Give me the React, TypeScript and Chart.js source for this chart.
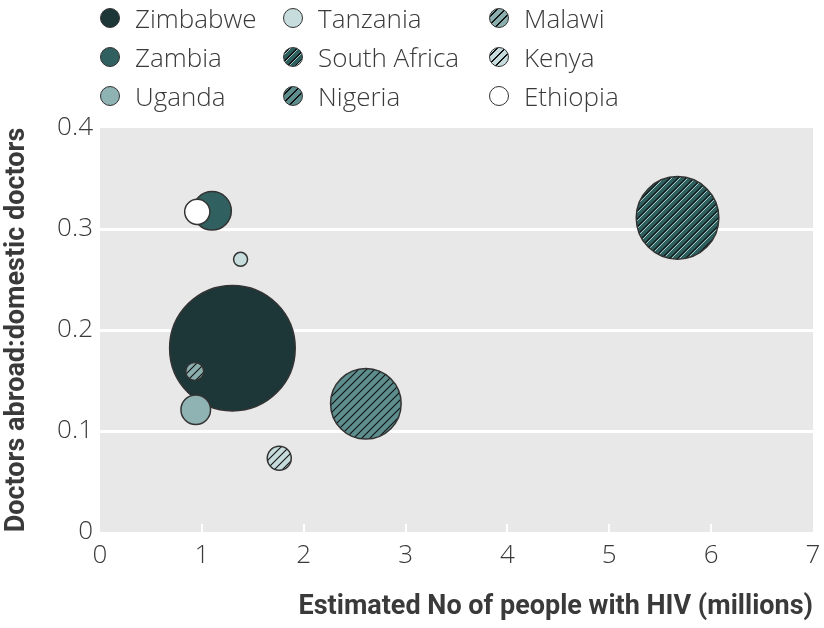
import React, { useEffect, useRef } from 'react';
import { Chart, registerables } from 'chart.js';

Chart.register(...registerables);

// ---- data ----
const countries = ['Zimbabwe', 'Zambia', 'Uganda', 'Tanzania', 'South Africa', 'Nigeria', 'Malawi', 'Kenya', 'Ethiopia'];
const hivMillions = [1.3, 1.1, 0.94, 1.38, 5.67, 2.61, 0.93, 1.76, 0.955];
const doctorRatio = [0.182, 0.318, 0.121, 0.27, 0.311, 0.127, 0.159, 0.073, 0.317];
const bubbleRadius = [62.8, 19.3, 14.8, 7, 41.3, 35.3, 9, 12, 12.6];
const fillColors = ['#1d3638', '#30605f', '#8fb2b2', '#c6dcdd', '#2e5f5f', '#5d8d8d', '#8aadad', '#c6dbdb', '#ffffff'];
const hatchStyles = ['none', 'none', 'none', 'none', 'double', 'single', 'single', 'single', 'none'];
const xTickLabels = ['0', '1', '2', '3', '4', '5', '6', '7'];
const yTickLabels = ['0', '0.1', '0.2', '0.3', '0.4'];
const xTitle = 'Estimated No of people with HIV (millions)';
const yTitle = 'Doctors abroad:domestic doctors';

const TEXT = '#3a3a3a';
const BORDER = '#333333';
const LIGHT_FONT = "'Open Sans', 'DejaVu Sans', sans-serif";
const BOLD_FONT = "Roboto, 'Open Sans', sans-serif";

function makePattern(base: string, style: string): CanvasPattern | string {
  if (style === 'none') return base;
  const s = 8;
  const c = document.createElement('canvas');
  c.width = s;
  c.height = s;
  const g = c.getContext('2d')!;
  g.fillStyle = base;
  g.fillRect(0, 0, s, s);
  const line = (off: number, color: string, w: number) => {
    g.strokeStyle = color;
    g.lineWidth = w;
    for (let k = -1; k <= 1; k++) {
      g.beginPath();
      g.moveTo(k * s + off - 1, s + 1);
      g.lineTo(k * s + off + s + 1, -1);
      g.stroke();
    }
  };
  if (style === 'double') {
    line(2, '#a9c7c7', 1);
    line(0, '#111111', 1.1);
  } else {
    line(0, '#111111', 1.1);
  }
  return g.createPattern(c, 'repeat')!;
}

function legendSwatch(i: number): React.CSSProperties {
  const base = fillColors[i];
  const style = hatchStyles[i];
  let background: string = base;
  if (style === 'single') {
    background = `repeating-linear-gradient(135deg, ${base} 0px, ${base} 4.6px, #111 4.6px, #111 5.8px)`;
  } else if (style === 'double') {
    background = `repeating-linear-gradient(135deg, ${base} 0px, ${base} 3.4px, #111 3.4px, #111 4.4px, #a9c7c7 4.4px, #a9c7c7 5.6px)`;
  }
  return {
    width: 20,
    height: 20,
    borderRadius: '50%',
    border: `1.5px solid ${BORDER}`,
    boxSizing: 'border-box',
    background,
    flex: '0 0 auto',
  };
}

const plotDecor = {
  id: 'plotDecor',
  beforeDraw(chart: any) {
    const { ctx, chartArea: a } = chart;
    ctx.save();
    ctx.fillStyle = '#e8e8e8';
    ctx.fillRect(a.left, a.top, a.right - a.left, a.bottom - a.top);
    ctx.restore();
  },
  beforeDatasetsDraw(chart: any) {
    const { ctx, chartArea: a } = chart;
    const xs = chart.scales.x;
    ctx.save();
    ctx.strokeStyle = '#ffffff';
    ctx.lineWidth = 2;
    xs.ticks.forEach((t: any, i: number) => {
      if (i === 0 || i === xs.ticks.length - 1) return;
      const px = Math.round(xs.getPixelForValue(t.value));
      ctx.beginPath();
      ctx.moveTo(px, a.bottom - 8);
      ctx.lineTo(px, a.bottom);
      ctx.stroke();
    });
    ctx.restore();
  },
};

export default function App() {
  const ref = useRef<HTMLCanvasElement>(null);

  useEffect(() => {
    const datasets = countries.map((name, i) => ({
      label: name,
      data: [{ x: hivMillions[i], y: doctorRatio[i], r: bubbleRadius[i] }],
      backgroundColor: makePattern(fillColors[i], hatchStyles[i]) as any,
      borderColor: BORDER,
      borderWidth: 1.5,
      hoverBorderWidth: 1.5,
      order: countries.length - i,
      clip: false as any,
    }));

    const chart = new Chart(ref.current!, {
      type: 'bubble',
      data: { datasets },
      plugins: [plotDecor],
      options: {
        responsive: false,
        animation: false,
        layout: { autoPadding: false, padding: { top: 128, right: 11, left: 0, bottom: 0 } },
        plugins: {
          legend: { display: false },
          tooltip: { enabled: false },
        },
        scales: {
          x: {
            type: 'linear',
            min: 0,
            max: 7,
            afterFit: (s: any) => {
              s.height = 96;
              s.paddingLeft = 0;
              s.paddingRight = 0;
            },
            grid: { display: false, drawTicks: false },
            border: { display: false },
            ticks: {
              stepSize: 1,
              padding: 8,
              color: TEXT,
              font: { family: LIGHT_FONT, size: 26, weight: 300 as any },
              callback: (_v: any, i: number) => xTickLabels[i],
            },
            title: {
              display: true,
              text: xTitle,
              align: 'end',
              color: TEXT,
              padding: { top: 0, bottom: 5 },
              font: { family: BOLD_FONT, size: 27, weight: 'bold' },
            },
          },
          y: {
            type: 'linear',
            min: 0,
            max: 0.4,
            afterFit: (s: any) => {
              s.width = 100;
              s.paddingTop = 0;
              s.paddingBottom = 0;
            },
            grid: {
              drawTicks: false,
              lineWidth: 3,
              color: (c: any) => (c.index === 0 || c.index === yTickLabels.length - 1 ? 'rgba(0,0,0,0)' : '#ffffff'),
            },
            border: { display: false },
            ticks: {
              stepSize: 0.1,
              padding: 7,
              color: TEXT,
              font: { family: LIGHT_FONT, size: 26, weight: 300 as any },
              callback: (_v: any, i: number) => yTickLabels[i],
            },
            title: {
              display: true,
              text: yTitle,
              color: TEXT,
              padding: { top: 1, bottom: 0 },
              font: { family: BOLD_FONT, size: 27, weight: 'bold' },
            },
          },
        },
      },
    });
    return () => chart.destroy();
  }, []);

  return (
    <div style={{ position: 'absolute', left: 0, top: 0, width: 824, height: 628, background: '#ffffff' }}>
      <canvas ref={ref} width={824} height={628} style={{ position: 'absolute', left: 0, top: 0 }} />
      <div
        style={{
          position: 'absolute',
          left: 100,
          top: -1.5,
          display: 'grid',
          gridTemplateColumns: '183px 206px auto',
          gridTemplateRows: 'repeat(3, 39px)',
          gridAutoFlow: 'column',
          fontFamily: LIGHT_FONT,
          fontWeight: 300,
          fontSize: 26,
          color: TEXT,
        }}
      >
        {countries.map((name, i) => (
          <div key={name} style={{ display: 'flex', alignItems: 'center', whiteSpace: 'nowrap' }}>
            <span style={legendSwatch(i)} />
            <span style={{ marginLeft: 15, lineHeight: '39px' }}>{name}</span>
          </div>
        ))}
      </div>
    </div>
  );
}
